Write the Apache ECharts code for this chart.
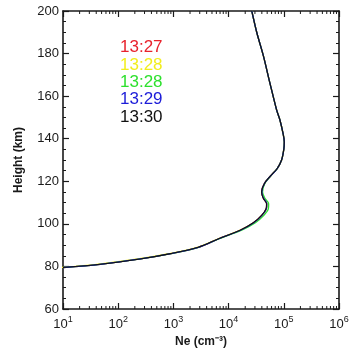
<!DOCTYPE html>
<html>
<head>
<meta charset="utf-8">
<script src="https://cdn.jsdelivr.net/npm/echarts@6/dist/echarts.min.js"></script>
<style>html,body{margin:0;padding:0;background:#fff}#c{width:353px;height:354px}</style>
</head>
<body>
<div id="c"></div>
<script>
const heights = [79.5, 81, 83.5, 86, 89, 93, 97, 100.5, 104, 107, 109.5, 112, 115, 119, 122.5, 126, 130, 135, 138.5, 142, 148.8, 153.5, 166, 178.9, 189.9, 200];
// Ne (cm^-3) per time
const ne1327  = [10, 47, 251, 891, 2820, 6610, 16200, 28200, 39800, 47900, 49000, 42700, 39800, 44700, 57500, 75900, 91200, 100000, 102000, 97700, 85100, 74100, 56200, 42700, 32400, 26300];
const ne1328a = [9, 41, 225, 820, 2680, 6450, 16000, 28400, 40300, 48500, 49600, 43000, 40000, 44800, 57500, 75900, 91200, 100000, 102000, 97700, 85100, 74100, 56200, 42700, 32400, 26300];
const ne1328b = [10, 47, 255, 905, 2880, 6800, 17300, 30600, 43500, 52500, 53200, 45500, 41200, 45300, 57800, 75900, 91200, 100000, 102000, 97700, 85100, 74100, 56200, 42700, 32400, 26300];
const ne1329  = [10, 47, 251, 891, 2820, 6650, 16400, 28500, 40200, 48300, 49400, 43000, 39900, 44700, 57500, 75900, 91200, 100000, 102000, 97700, 85100, 74100, 56200, 42700, 32400, 26300];
const ne1330  = [10, 47, 251, 891, 2820, 6600, 16100, 28000, 39500, 47500, 48600, 42400, 39600, 44600, 57400, 75900, 91200, 100000, 102000, 97700, 85100, 74100, 56200, 42700, 32400, 26300];

const seriesNames = ['13:27', '13:28', '13:28', '13:29', '13:30'];
const seriesColors = ['#e8222c', '#f2ee1e', '#2ee02e', '#1c1cd8', '#111111'];
const seriesValues = [ne1327, ne1328a, ne1328b, ne1329, ne1330];

const yTicks = {min: 60, max: 200, interval: 20};
const xRange = {min: 10, max: 1e6};

// log minor tick positions (2..9 in each decade)
const xMinorTicks = [];
for (let d = 10; d < xRange.max; d *= 10) for (let m = 2; m <= 9; m++) xMinorTicks.push(m * d);

const chart = echarts.init(document.getElementById('c'), null, {renderer: 'canvas'});
const axisColor = '#1a1a1a';
const font = 'Liberation Sans, Arial, Helvetica, sans-serif';

function xLabel(v) {
  const e = Math.round(Math.log10(v));
  return '{b|10}{s|' + e + '}';
}

const series = seriesValues.map((vals, i) => ({
  type: 'line',
  name: seriesNames[i] + '_' + i,
  xAxisIndex: 0, yAxisIndex: 0,
  data: vals.map((v, j) => [v, heights[j]]),
  smooth: 0.3,
  symbol: 'none',
  lineStyle: {color: seriesColors[i], width: i === 4 ? 1.1 : 1.3},
  z: 2 + i,
  silent: true
}));

series.push({
  type: 'custom',
  xAxisIndex: 0, yAxisIndex: 0,
  clip: false,
  silent: true,
  data: xMinorTicks.map(v => [v, yTicks.min]),
  renderItem: function (params, api) {
    const v = api.value(0);
    const b = api.coord([v, yTicks.min]);
    const t = api.coord([v, yTicks.max]);
    const st = {stroke: axisColor, lineWidth: 1};
    return {type: 'group', children: [
      {type: 'line', shape: {x1: b[0], y1: b[1], x2: b[0], y2: b[1] - 3}, style: st},
      {type: 'line', shape: {x1: t[0], y1: t[1], x2: t[0], y2: t[1] + 3}, style: st}
    ]};
  },
  z: 10
});

const baseX = {
  type: 'log', logBase: 10, min: xRange.min, max: xRange.max,
  axisLine: {show: true, onZero: false, lineStyle: {color: axisColor, width: 1.6}},
  axisTick: {show: true, inside: true, length: 6, lineStyle: {color: axisColor, width: 1.2}},
  splitLine: {show: false}
};
const baseY = {
  type: 'value', min: yTicks.min, max: yTicks.max, interval: yTicks.interval,
  axisLine: {show: true, onZero: false, lineStyle: {color: axisColor, width: 1.6}},
  axisTick: {show: true, inside: true, length: 6, lineStyle: {color: axisColor, width: 1.2}},
  minorTick: {show: true, splitNumber: 4, length: 3, lineStyle: {color: axisColor, width: 1}},
  splitLine: {show: false}
};

const legendItems = seriesNames.map((n, i) => ({
  type: 'text', left: 120, top: 39 + i * 17.4, z: 20,
  style: {text: n, fill: seriesColors[i], font: '17px ' + font}
}));

chart.setOption({
  animation: false,
  backgroundColor: '#fff',
  grid: {left: 63, right: 14, top: 11, bottom: 45, containLabel: false},
  xAxis: [
    Object.assign({}, baseX, {
      position: 'bottom',
      name: 'Ne (cm\u207B\u00B3)', nameLocation: 'middle', nameGap: 27,
      nameTextStyle: {color: axisColor, fontSize: 12, fontWeight: 'bold', fontFamily: font},
      axisLabel: {
        margin: 6, formatter: xLabel,
        rich: {
          b: {fontSize: 13, color: axisColor, fontFamily: font},
          s: {fontSize: 9, color: axisColor, fontFamily: font, padding: [0, 0, 9, 0]}
        }
      }
    }),
    Object.assign({}, baseX, {position: 'top', axisLabel: {show: false}})
  ],
  yAxis: [
    Object.assign({}, baseY, {
      position: 'left',
      name: 'Height (km)', nameLocation: 'middle', nameGap: 38, nameRotate: 90,
      nameTextStyle: {color: axisColor, fontSize: 12, fontWeight: 'bold', fontFamily: font},
      axisLabel: {margin: 4, color: axisColor, fontSize: 13, fontFamily: font}
    }),
    Object.assign({}, baseY, {position: 'right', axisLabel: {show: false}})
  ],
  graphic: legendItems,
  series: series
});
</script>
</body>
</html>
